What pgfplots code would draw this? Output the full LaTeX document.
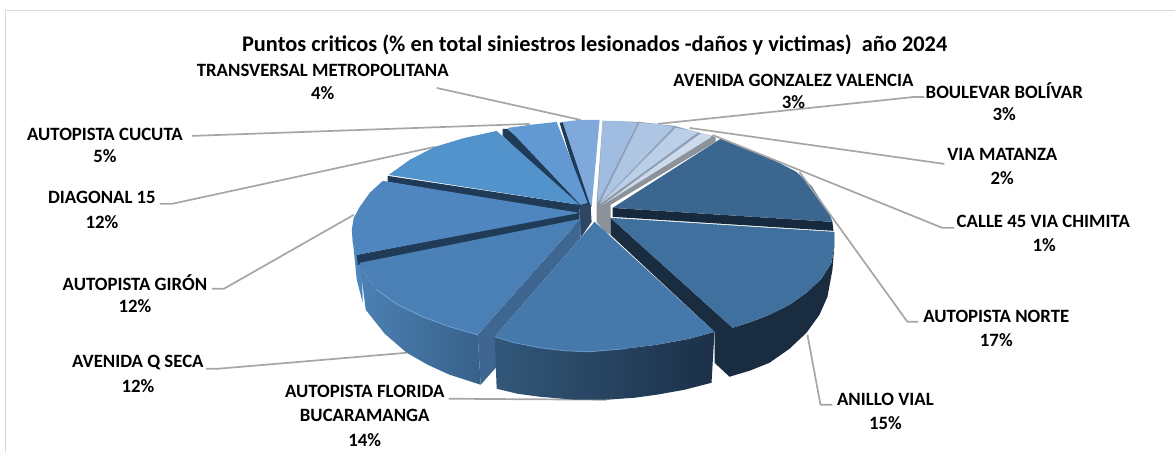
\documentclass[border=0pt]{standalone}
\usepackage{pgfplots}
\pgfplotsset{compat=1.18}
\usepackage{fontspec}
\setmainfont{Carlito}
\definecolor{lead}{HTML}{A6A6A6}
\definecolor{wallD}{HTML}{1F3B57}
\definecolor{wallN}{HTML}{17293D}
\definecolor{fanG}{HTML}{8F9FB5}
\definecolor{coreG}{HTML}{8C9299}
\definecolor{hiA}{RGB}{111,163,216}
\definecolor{hiB}{RGB}{100,150,200}
\newcommand{\lb}[3]{\node[font=\fontsize{18.8}{20}\selectfont\bfseries,inner sep=0pt,text=black] at (axis cs:#1,#2) {#3};}
\begin{document}
\begin{tikzpicture}
\begin{axis}[scale only axis,width=1176pt,height=452pt,xmin=0,xmax=1176,ymin=0,ymax=452,y dir=reverse,
  axis lines=none,clip=false,no markers,every axis plot/.append style={line join=round}]
% background and frame
\addplot[fill=white,draw=none] coordinates {(0,0)(1176,0)(1176,452)(0,452)} -- cycle;
\addplot[draw=black!15,line width=1.6pt] coordinates {(5.5,452)(5.5,10.5)(1176,10.5)};
% leader lines
\addplot[lead,line width=1.7pt] coordinates {(437,88)(581,120)};
\addplot[lead,line width=1.7pt] coordinates {(192,136)(530,124)};
\addplot[lead,line width=1.7pt] coordinates {(160,204)(172,204)(435,147)};
\addplot[lead,line width=1.7pt] coordinates {(212,289)(224,289)(354,215)};
\addplot[lead,line width=1.7pt] coordinates {(206,369)(218,369)(407,353)};
\addplot[lead,line width=1.7pt] coordinates {(449,399)(607,400)};
\addplot[lead,line width=1.7pt] coordinates {(833,405)(821,405)(808,335)};
\addplot[lead,line width=1.7pt] coordinates {(945,164)(690,128)};
\addplot[lead,line width=1.7pt] coordinates {(925,97)(915,97)(658,124)};
% back-right fan and its walls
\addplot[fill=fanG,draw=none] coordinates {(597,203)(603,121)(640,122)(675,126)(712,136)(606,205)} -- cycle;
\addplot[fill=coreG,draw=none] coordinates {(712,136)(716,137)(716,142)(611,205)(611,235)(605,232)(597,222)(597,203)} -- cycle;
% Avenida Gonzalez Valencia 3
\addplot[fill={rgb,255:red,160;green,188;blue,224},draw=none] coordinates {(598,203)(603,121)(620,121)(638,123)} -- cycle;
% Boulevar Bolivar 3
\addplot[fill={rgb,255:red,174;green,197;blue,227},draw=none] coordinates {(600,204)(640,123)(658,124)(674,127)} -- cycle;
% Via Matanza 2
\addplot[fill={rgb,255:red,187;green,207;blue,232},draw=none] coordinates {(601,204)(676,128)(689,130)(699,132)} -- cycle;
% Calle 45 1
\addplot[fill={rgb,255:red,205;green,218;blue,236},draw=none] coordinates {(603,205)(702,133)(708,135)(712,137)} -- cycle;
% Transversal Metropolitana 4
\addplot[fill=wallD,draw=none] coordinates {(560,123)(564,122)(592,207)(586,207)} -- cycle;
\addplot[fill={rgb,255:red,127;green,169;blue,219},draw=none] coordinates {(563,122)(580,120)(600,120)(592,207)(590,203)} -- cycle;
% Autopista Cucuta 5
\addplot[fill=wallD,draw=none] coordinates {(503,129)(508,129)(590,203)(580,209)(503,136)} -- cycle;
\addplot[fill={rgb,255:red,98;green,153;blue,210},draw=none] coordinates {(508,128)(530,125)(557,122)(588,203)(581,205)} -- cycle;
% Diagonal 15 12
\addplot[fill=wallD,draw=none] coordinates {(388,176)(580,205)(580,214)(388,182)} -- cycle;
\addplot[fill={rgb,255:red,83;green,147;blue,204},draw=none] coordinates {(389,175)(410,160)(435,147)(465,138)(497,131)(580,205)} -- cycle;
% Autopista Giron 12
\addplot[fill={rgb,255:red,77;green,134;blue,194},draw=none] coordinates {(353,240)(357,280)(363,303)(362,265)(358,255)} -- cycle;
\addplot[fill=wallD,draw=none] coordinates {(357,255)(580,212)(580,226)(358,265)} -- cycle;
\addplot[fill={rgb,255:red,79;green,134;blue,191},draw=none] coordinates {(383,181)(370,193)(360,207)(354,218)(352,230)(353,243)(357,255)(580,213)} -- cycle;
% central block
\addplot[fill={rgb,255:red,45;green,71;blue,99},draw=none] coordinates {(580,205)(591,205)(592,222)(581,238)} -- cycle;
% Autopista Norte 17
\addplot[fill=wallN,draw=none] coordinates {(613,208)(833,222)(834,231)(613,217)} -- cycle;
\addplot[fill={rgb,255:red,58;green,102;blue,144},draw=none] coordinates {(613,208)(721,139)(745,148)(772,159)(797,172)(812,186)(823,203)(830,214)(833,222)} -- cycle;
\addplot[lead,line width=1.7pt] coordinates {(919,322)(908,322)(800,172)};
\addplot[lead,line width=1.7pt] coordinates {(955,228)(943,228)(713,135)};
% Anillo Vial 15
\addplot[fill={rgb,255:red,26;green,44;blue,64},draw=none] coordinates {(611,218)(733,328)(752,322)(770,315)(790,305)(807,293)(822,279)(832,263)(835,245)(835,232)(835,245)(833,270)(828,297)(820,315)(807,333)(790,349)(770,363)(750,371)(730,377)(715,363)(715,332)(611,235)} -- cycle;
\addplot[fill={rgb,255:red,64;green,112;blue,158},draw=none] coordinates {(611,218)(835,232)(835,245)(832,263)(822,279)(807,293)(790,305)(770,315)(752,322)(733,328)} -- cycle;
% Avenida Q Seca 12
\addplot[draw=none,left color={rgb,255:red,76;green,128;blue,180},right color={rgb,255:red,56;green,97;blue,138}] coordinates {(360,263)(367,277)(377,290)(398,305)(423,317)(450,327)(478,335)(481,385)(450,375)(428,365)(407,353)(385,334)(366,310)} -- cycle;
\addplot[fill={rgb,255:red,62;green,102;blue,144},draw=none] coordinates {(478,335)(581,219)(581,238)(495,337)(497,367)(481,385)} -- cycle;
\addplot[fill={rgb,255:red,74;green,128;blue,181},draw=none] coordinates {(360,263)(581,219)(478,335)(450,327)(423,317)(398,305)(377,290)(367,277)} -- cycle;
\addplot[hiA,line width=0.8pt] coordinates {(377,290)(398,305)(423,317)(450,327)(478,335)};
% Autopista Florida Bucaramanga 14
\addplot[draw=none,left color={rgb,255:red,50;green,88;blue,122},right color={rgb,255:red,28;green,48;blue,72}] coordinates {(495,337)(515,343)(540,348)(565,351)(590,352)(625,349)(657,345)(690,339)(715,332)(712,383)(685,390)(657,395)(635,398)(607,400)(575,400)(540,397)(518,394)(497,389)} -- cycle;
\addplot[fill={rgb,255:red,70;green,121;blue,171},draw=none] coordinates {(595,222)(715,332)(690,339)(657,345)(625,349)(590,352)(565,351)(540,348)(515,343)(495,337)} -- cycle;
\addplot[hiB,line width=0.8pt] coordinates {(495,337)(515,343)(540,348)(565,351)(590,352)(625,349)};
% texts
\node[font=\fontsize{22.35}{24}\selectfont\bfseries,inner sep=0pt,text=black] at (axis cs:595,45) {Puntos criticos (\% en total siniestros lesionados -daños y victimas)\ \ año 2024};
\lb{323}{70}{TRANSVERSAL METROPOLITANA}\lb{323}{93}{4\%}
\lb{794}{80}{AVENIDA GONZALEZ VALENCIA}\lb{794}{102}{3\%}
\lb{1005}{91}{BOULEVAR BOLÍVAR}\lb{1005}{114}{3\%}
\lb{1003}{155}{VIA MATANZA}\lb{1003}{178}{2\%}
\lb{1044}{222}{CALLE 45 VIA CHIMITA}\lb{1045}{245}{1\%}
\lb{997}{317}{AUTOPISTA NORTE}\lb{997}{340}{17\%}
\lb{886}{400}{ANILLO VIAL}\lb{886}{423}{15\%}
\lb{365}{392}{AUTOPISTA FLORIDA}\lb{365}{416}{BUCARAMANGA}\lb{365}{440}{14\%}
\lb{138}{363}{AVENIDA Q SECA}\lb{138}{386}{12\%}
\lb{135}{283}{AUTOPISTA GIRÓN}\lb{135}{306}{12\%}
\lb{102}{198}{DIAGONAL 15}\lb{102}{222}{12\%}
\lb{105}{134}{AUTOPISTA CUCUTA}\lb{105}{156}{5\%}
\end{axis}
\end{tikzpicture}
\end{document}
